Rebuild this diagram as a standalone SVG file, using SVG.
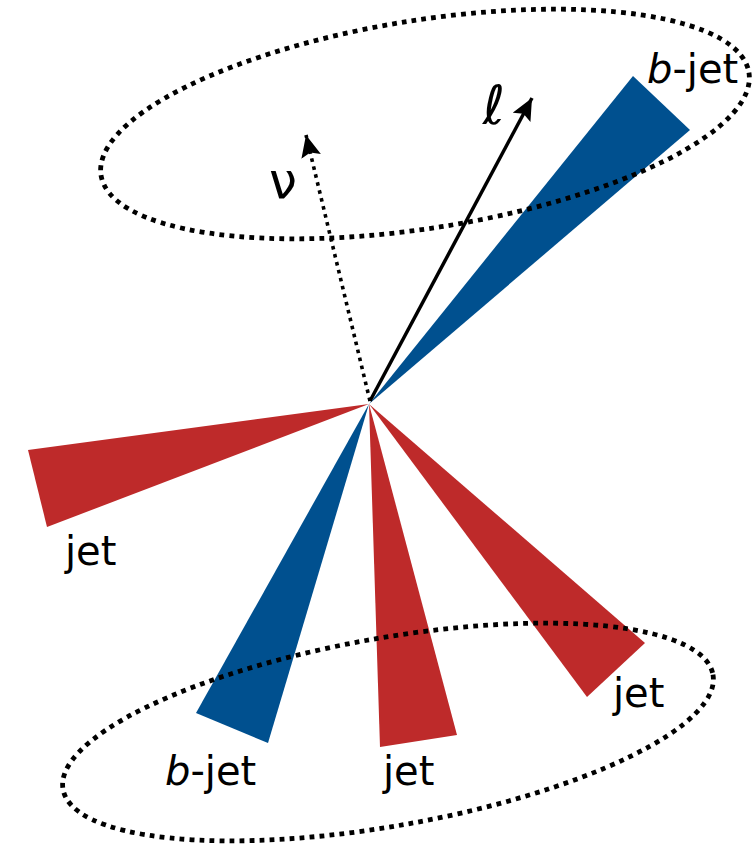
<svg xmlns="http://www.w3.org/2000/svg" width="755" height="850" viewBox="0 0 755 850">
  <style>
    .blue { fill: #00508F; }
    .red { fill: #BE2A2A; }
    .lbl { font-family: "DejaVu Sans", Verdana, sans-serif; font-size: 40px; fill: #000; }
    .it { font-style: italic; }
    .ring { fill: none; stroke: #000; stroke-width: 4.8; stroke-dasharray: 4.8 5.2; }
  </style>
  <defs>
    <marker id="head" markerUnits="userSpaceOnUse" markerWidth="26" markerHeight="22" refX="22" refY="10" orient="auto">
      <path d="M0,0 L22,10 L0,20 L4,10 Z" fill="#000"/>
    </marker>
  </defs>
  <rect width="755" height="850" fill="#fff"/>

  <g id="jet-left"><polygon class="red" points="369,404 28,450 47,527"/></g>
  <g id="bjet-bottom"><polygon class="blue" points="369,404 196,713 268,743"/></g>
  <g id="jet-middle"><polygon class="red" points="369,404 380,747 457,735"/></g>
  <g id="jet-right"><polygon class="red" points="369,404 645,643 587,697"/></g>
  <g id="bjet-top"><polygon class="blue" points="369,404 633,76 690,130"/></g>

  <g id="connectors">
    <line x1="370" y1="401" x2="532" y2="98" stroke="#000" stroke-width="3.5" marker-end="url(#head)"/>
    <line x1="370" y1="401" x2="306" y2="135" stroke="#000" stroke-width="3.6" stroke-dasharray="3.6 4.6" marker-end="url(#head)"/>
  </g>

  <g id="group-top"><ellipse class="ring" cx="425" cy="124" rx="328" ry="104" transform="rotate(-9 425 124)"/></g>
  <g id="group-bottom"><ellipse class="ring" cx="388" cy="732" rx="330" ry="94" transform="rotate(-10 388 732)"/></g>

  <g id="labels">
    <text class="lbl" x="647" y="83"><tspan class="it">b</tspan>-jet</text>
    <text class="lbl" x="65" y="565">jet</text>
    <text class="lbl" x="165" y="785"><tspan class="it">b</tspan>-jet</text>
    <text class="lbl" x="383" y="785">jet</text>
    <text class="lbl" x="613" y="707">jet</text>
    <text class="lbl" x="494" y="124" text-anchor="middle" style="font-size:54px">ℓ</text>
    <text class="lbl" x="283" y="198" text-anchor="middle" style="font-size:50px">ν</text>
  </g>
</svg>
